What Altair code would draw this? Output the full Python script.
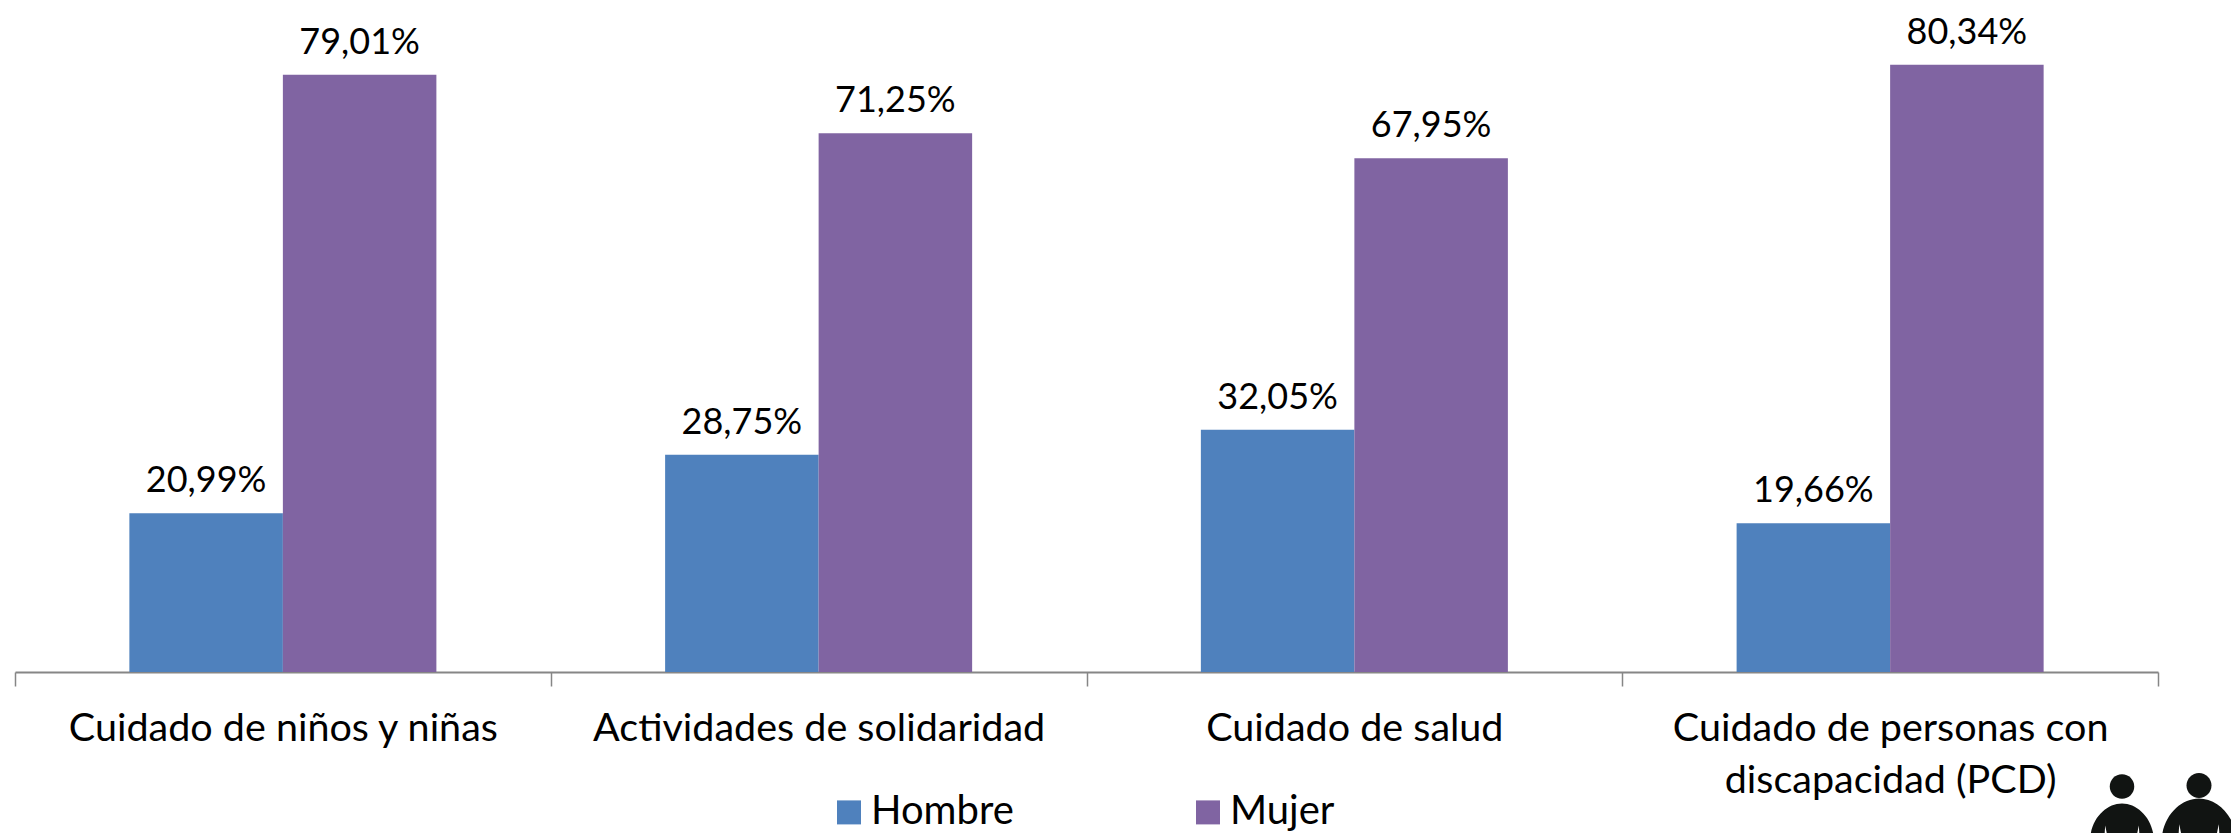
import altair as alt
import pandas as pd

categories = ["Cuidado de niños y niñas", "Actividades de solidaridad", "Cuidado de salud", "Cuidado de personas con discapacidad (PCD)"]
hombre = [20.99, 28.75, 32.05, 19.66]
mujer = [79.01, 71.25, 67.95, 80.34]
series = ["Hombre", "Mujer"]
colors = ["#4F81BD", "#8064A2"]
FONT = "Lato"

rows = []
for c, h, m in zip(categories, hombre, mujer):
    rows.append({"cat": c, "serie": "Hombre", "v": h, "label": f"{h:.2f}%".replace(".", ",")})
    rows.append({"cat": c, "serie": "Mujer", "v": m, "label": f"{m:.2f}%".replace(".", ",")})
df = pd.DataFrame(rows)

x = alt.X("cat:N", sort=categories, title=None,
          scale=alt.Scale(paddingInner=0, paddingOuter=0, round=False),
          axis=alt.Axis(labelAngle=0, labelFont=FONT, labelFontSize=39.5, labelColor="#000000",
                        labelPadding=42, labelLimit=0, tickBand="extent", tickSize=14, tickWidth=1.5,
                        tickColor="#868686", domainColor="#868686", domainWidth=2, grid=False,
                        labelLineHeight=52, labelBaseline="middle",
                        labelExpr="datum.label == 'Cuidado de personas con discapacidad (PCD)' ? ['Cuidado de personas con', 'discapacidad (PCD)'] : datum.label"))
xo = alt.XOffset("serie:N", sort=series, scale=alt.Scale(paddingInner=0, paddingOuter=0.745, round=False))
y = alt.Y("v:Q", axis=None, scale=alt.Scale(domain=[0, 85], nice=False))

bars = alt.Chart(df).mark_bar().encode(
    x=x, xOffset=xo, y=y,
    color=alt.Color("serie:N", sort=series, title=None,
                    scale=alt.Scale(domain=series, range=colors),
                    legend=alt.Legend(orient="none", legendX=814, legendY=763, direction="horizontal",
                                      columns=2, columnPadding=174, symbolType="square", symbolSize=576,
                                      symbolStrokeWidth=0, symbolOpacity=1, labelFont=FONT, labelFontSize=40,
                                      labelColor="#000000", labelLimit=0, labelOffset=2)),
)
text = alt.Chart(df).mark_text(font=FONT, fontSize=36, color="#000000", baseline="bottom", dy=-13).encode(
    x=x, xOffset=xo, y=y, text="label:N")

# decorative icon: two people
HEAD = "M-1,0A1,1 0 1,0 1,0A1,1 0 1,0 -1,0Z"
BODY = ("M-0.82,0 L-0.78,-0.25 C-0.7,-0.7 -0.35,-1 0,-1 C0.35,-1 0.7,-0.7 0.78,-0.25 L0.82,0 L0.45,0 "
        "L0.42,-0.45 L0.37,-0.2 L0.37,0 L-0.37,0 L-0.37,-0.2 L-0.42,-0.45 L-0.45,0 Z")
one = pd.DataFrame({"k": ["a"]})
INK = "#111412"
h1 = alt.Chart(one).mark_point(shape=HEAD, filled=True, color=INK, opacity=1, size=600).encode(x=alt.value(2107), y=alt.value(757))
h2 = alt.Chart(one).mark_point(shape=HEAD, filled=True, color=INK, opacity=1, size=625).encode(x=alt.value(2184), y=alt.value(756))
b1 = alt.Chart(one).mark_point(shape=BODY, filled=True, color=INK, opacity=1, size=6400).encode(x=alt.value(2107), y=alt.value(814))
b2 = alt.Chart(one).mark_point(shape=BODY, filled=True, color=INK, opacity=1, size=8836).encode(x=alt.value(2184), y=alt.value(816))

chart = alt.layer(bars, text, h1, h2, b1, b2).resolve_scale(x="shared").properties(
    width=2143, height=642.6,
    autosize=alt.AutoSizeParams(type="none"),
    padding={"left": 7, "top": 21.4, "right": 73, "bottom": 161},
    background="#ffffff",
).configure_view(stroke=None)
chart.save("out.html", embed_options={"renderer": "svg", "actions": False})
